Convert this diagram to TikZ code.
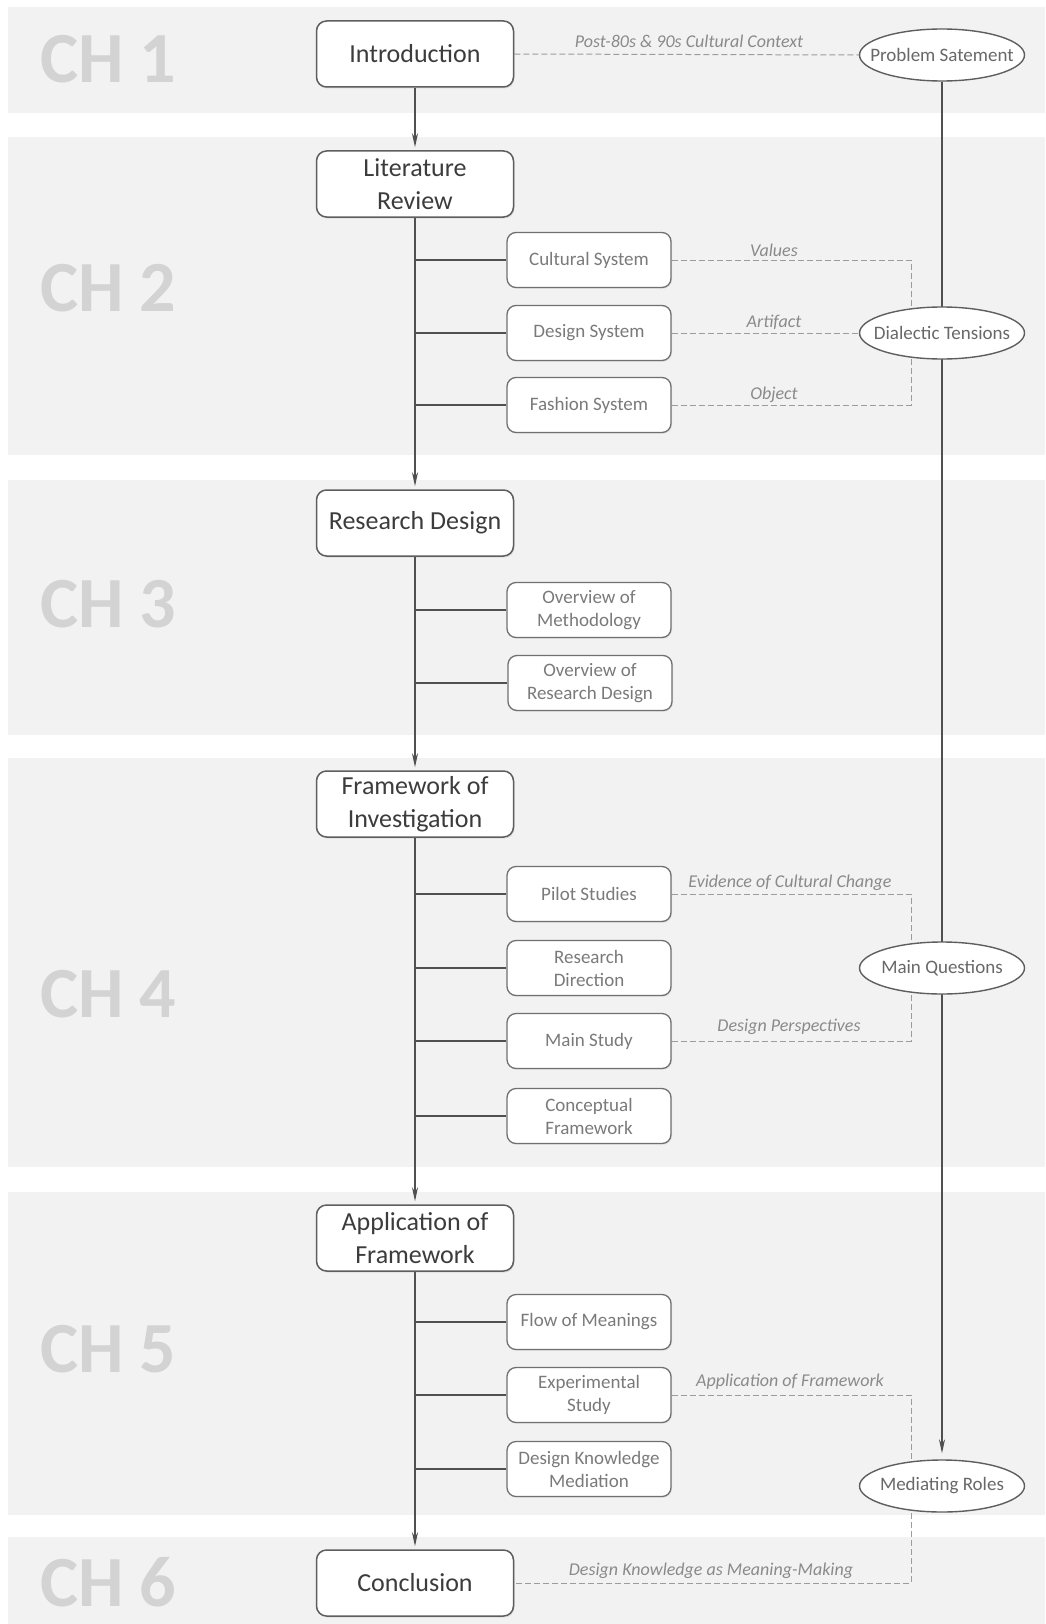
\documentclass[tikz,border=0pt]{standalone}
\usepackage{fontspec}
\setmainfont{Carlito}
\usetikzlibrary{arrows.meta,shapes.geometric,shadows}

\definecolor{bandgray}{HTML}{F2F2F2}
\definecolor{chgray}{HTML}{D3D3D3}
\definecolor{boxline}{HTML}{5E5E5E}
\definecolor{subline}{HTML}{707070}
\definecolor{maintext}{HTML}{3C3C3C}
\definecolor{subtext}{HTML}{7A7A7A}
\definecolor{dashgray}{HTML}{9C9C9C}
\definecolor{labgray}{HTML}{8A8A8A}
\definecolor{trunk}{HTML}{505050}

\pgfdeclarelayer{bands}
\pgfdeclarelayer{links}
\pgfsetlayers{bands,links,main}

\tikzset{
  band/.style={fill=bandgray, draw=none},
  chlabel/.style={anchor=west, text=chgray, font=\fontsize{72}{80}\selectfont\bfseries, inner sep=0pt},
  mainbox/.style={draw=boxline, line width=1.5pt, rounded corners=10pt, fill=white,
    minimum width=197pt, minimum height=66pt, align=center, text=maintext,
    font=\fontsize{26}{33}\selectfont, inner sep=2pt,
    drop shadow={opacity=0.18, shadow xshift=1pt, shadow yshift=-1.5pt}},
  subbox/.style={draw=subline, line width=1.3pt, rounded corners=9pt, fill=white,
    minimum width=164pt, minimum height=55pt, align=center, text=subtext,
    font=\fontsize{19}{23}\selectfont, inner sep=2pt,
    drop shadow={opacity=0.15, shadow xshift=1pt, shadow yshift=-1.2pt}},
  oval/.style={ellipse, draw=boxline, line width=1.4pt, fill=white,
    minimum width=165pt, minimum height=52pt, inner xsep=-18pt, inner ysep=0pt,
    text=subtext!85!black, font=\fontsize{19}{23}\selectfont},
  flow/.style={draw=trunk, line width=1.6pt, -{Stealth[length=14pt,width=6pt]}, shorten >=3pt},
  branch/.style={draw=trunk, line width=1.6pt},
  link/.style={draw=dashgray, line width=1pt, dash pattern=on 6pt off 3pt},
  linklabel/.style={text=labgray, font=\fontsize{18}{22}\selectfont\itshape, inner sep=0pt}
}

\begin{document}
\begin{tikzpicture}[x=1pt, y=-1pt]
  \useasboundingbox (0,0) rectangle (1045,1624);

  % chapter bands
  \begin{pgfonlayer}{bands}
    \fill[white] (0,0) rectangle (1045,1624);
    \path[band] (8,7)    rectangle (1045,113);
    \path[band] (8,137)  rectangle (1045,455);
    \path[band] (8,480)  rectangle (1045,735);
    \path[band] (8,758)  rectangle (1045,1167);
    \path[band] (8,1192) rectangle (1045,1515);
    \path[band] (8,1537) rectangle (1045,1624);
  \end{pgfonlayer}

  % chapter labels
  \node[chlabel] (ch1) at (40,59)   {CH 1};
  \node[chlabel] (ch2) at (40,288)  {CH 2};
  \node[chlabel] (ch3) at (40,604)  {CH 3};
  \node[chlabel] (ch4) at (40,994)  {CH 4};
  \node[chlabel] (ch5) at (40,1349) {CH 5};
  \node[chlabel] (ch6) at (40,1582) {CH 6};

  % main chapter boxes
  \node[mainbox] (intro) at (415,54)   {Introduction};
  \node[mainbox] (lit)   at (415,184)  {Literature\\Review};
  \node[mainbox] (rd)    at (415,523)  {Research Design};
  \node[mainbox] (fw)    at (415,804)  {Framework of\\Investigation};
  \node[mainbox] (app)   at (415,1238) {Application of\\Framework};
  \node[mainbox] (concl) at (415,1583) {Conclusion};

  % sub-sections
  \node[subbox] (cult)  at (589,260)  {Cultural System};
  \node[subbox] (dsys)  at (589,333)  {Design System};
  \node[subbox] (fsys)  at (589,405)  {Fashion System};
  \node[subbox] (meth)  at (589,610)  {Overview of\\Methodology};
  \node[subbox] (ords)  at (590,683)  {Overview of\\Research Design};
  \node[subbox] (pilot) at (589,894)  {Pilot Studies};
  \node[subbox] (rdir)  at (589,968)  {Research\\Direction};
  \node[subbox] (mstud) at (589,1041) {Main Study};
  \node[subbox] (cfw)   at (589,1116) {Conceptual\\Framework};
  \node[subbox] (flow)  at (589,1322) {Flow of Meanings};
  \node[subbox] (exps)  at (589,1395) {Experimental\\Study};
  \node[subbox] (dkm)   at (589,1469) {Design Knowledge\\Mediation};

  % outcome ovals
  \node[oval] (prob) at (942,55)   {Problem Satement};
  \node[oval] (dial) at (942,333)  {Dialectic Tensions};
  \node[oval] (mq)   at (942,968)  {Main Questions};
  \node[oval] (med)  at (942,1486) {Mediating Roles};

  % column of the dashed collectors
  \coordinate (dx) at (911,0);

  % connector labels
  \node[linklabel] (l1) at (689,41)   {Post-80s \& 90s Cultural Context};
  \node[linklabel] (l2) at (774,250)  {Values};
  \node[linklabel] (l3) at (774,322)  {Artifact};
  \node[linklabel] (l4) at (774,395)  {Object};
  \node[linklabel] (l5) at (790,883)  {Evidence of Cultural Change};
  \node[linklabel] (l6) at (789,1027) {Design Perspectives};
  \node[linklabel] (l7) at (790,1382) {Application of Framework};
  \node[linklabel] (l8) at (711,1571) {Design Knowledge as Meaning-Making};

  \begin{pgfonlayer}{links}
    % main flow
    \draw[flow] (intro) -- (lit);
    \draw[flow] (lit) -- (rd);
    \draw[flow] (rd) -- (fw);
    \draw[flow] (fw) -- (app);
    \draw[flow] (app) -- (concl);

    % branches to sub-sections
    \foreach \s/\m in {cult/lit, dsys/lit, fsys/lit, meth/rd, ords/rd,
                       pilot/fw, rdir/fw, mstud/fw, cfw/fw,
                       flow/app, exps/app, dkm/app}
      \draw[branch] (\s.west -| \m) -- (\s.west);

    % right-hand spine
    \draw[flow, shorten >=6pt] (prob) -- (med);

    % dashed relations
    \draw[link] (intro.east) -- (prob.west);
    \draw[link] (cult.east) -- (cult.east -| dx) -- (dx |- dial);
    \draw[link] (dsys.east) -- (dial.west);
    \draw[link] (fsys.east) -- (fsys.east -| dx) -- (dx |- dial);
    \draw[link] (pilot.east) -- (pilot.east -| dx) -- (dx |- mq);
    \draw[link] (mstud.east) -- (mstud.east -| dx) -- (dx |- mq);
    \draw[link] (exps.east) -- (exps.east -| dx) -- (dx |- med);
    \draw[link] (dx |- med) -- (dx |- concl) -- (concl.east);
  \end{pgfonlayer}
\end{tikzpicture}
\end{document}
